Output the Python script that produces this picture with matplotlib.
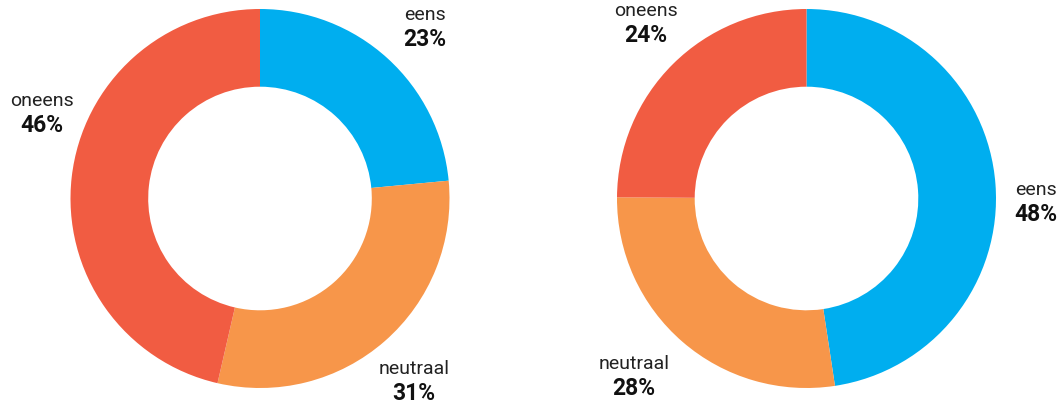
import matplotlib.pyplot as plt

plt.rcParams['font.family'] = ['Roboto', 'DejaVu Sans']

# data: wedge shares as drawn, and the rounded labels printed next to them
categories_left = ['eens', 'neutraal', 'oneens']
values_left = [23.5, 30.1, 46.4]
labels_left = ['23%', '31%', '46%']
categories_right = ['eens', 'neutraal', 'oneens']
values_right = [47.6, 27.5, 24.9]
labels_right = ['48%', '28%', '24%']

colors = {'eens': '#00AEEF', 'neutraal': '#F7964A', 'oneens': '#F15C42'}

W, H = 1064, 406
fig = plt.figure(figsize=(W / 100, H / 100), dpi=100)

def donut(cx, cy, r, cats, vals):
    ax = fig.add_axes([(cx - r) / W, 1 - (cy + r) / H, 2 * r / W, 2 * r / H])
    ax.pie(vals, colors=[colors[c] for c in cats], startangle=90, counterclock=False,
           radius=1, wedgeprops=dict(width=0.41, edgecolor='none'))
    ax.set_xlim(-1, 1)
    ax.set_ylim(-1, 1)
    ax.set_aspect('equal')
    ax.axis('off')
    return ax

def label(x, y, name, pct):
    fig.text(x / W, 1 - y / H, name, ha='center', va='center', fontsize=14, color='#222222')
    fig.text(x / W, 1 - (y + 25) / H, pct, ha='center', va='center', fontsize=16.5,
             fontweight='bold', color='#111111')

donut(260, 199.5, 189.5, categories_left, values_left)
donut(806.5, 199.5, 189.5, categories_right, values_right)

# label positions (pixels)
pos_left = {'eens': (425, 15), 'neutraal': (414, 369), 'oneens': (42, 101)}
pos_right = {'eens': (1036, 190), 'neutraal': (634, 364), 'oneens': (646, 11)}

for c, p in zip(categories_left, labels_left):
    label(*pos_left[c], c, p)
for c, p in zip(categories_right, labels_right):
    label(*pos_right[c], c, p)

fig.savefig('out.png', dpi=100)
